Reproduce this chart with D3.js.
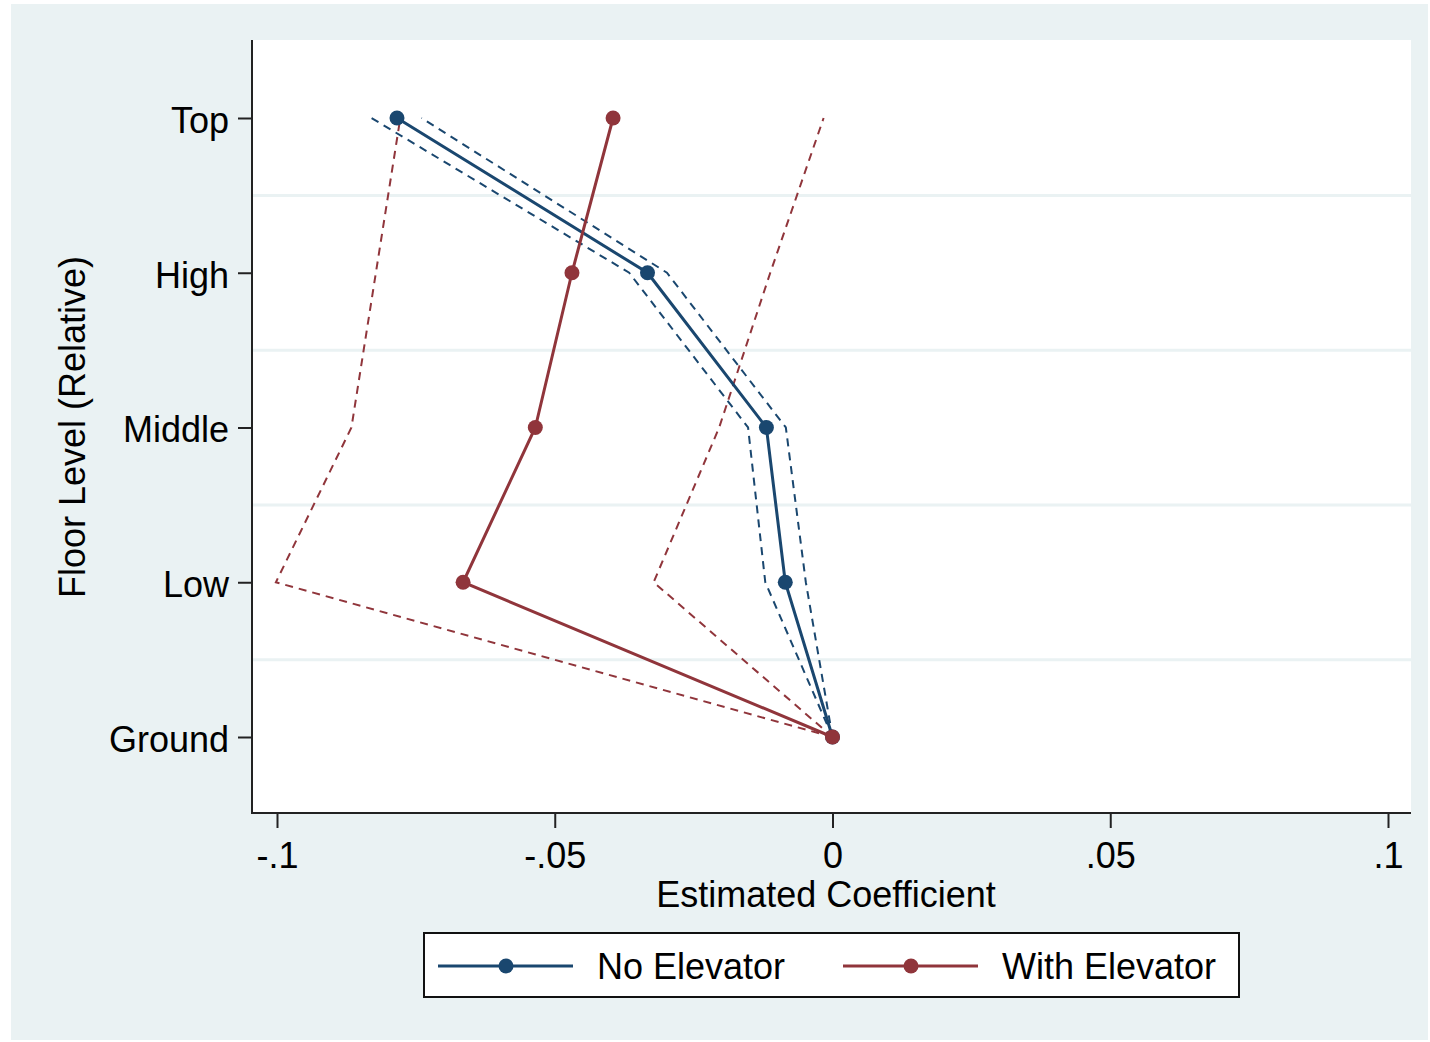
<!DOCTYPE html>
<html>
<head>
<meta charset="utf-8">
<script src="https://cdn.jsdelivr.net/npm/d3@7"></script>
<style>
  body { margin: 0; background: #fff; }
  svg { display: block; font-family: "Liberation Sans", Arial, sans-serif; }
</style>
</head>
<body>
<div id="chart"></div>
<script>
// floor levels, bottom to top
const levels = ["Ground", "Low", "Middle", "High", "Top"];

const noElevCoef = [0, -0.0085, -0.0119, -0.0333, -0.0784];
const noElevLo   = [0, -0.0121, -0.0152, -0.0366, -0.0830];
const noElevHi   = [0, -0.0048, -0.0084, -0.0298, -0.0740];

const withElevCoef = [0, -0.0665, -0.0535, -0.0469, -0.0395];
const withElevLo   = [0, -0.1002, -0.0866, -0.0822, -0.0778];
const withElevHi   = [0, -0.0322, -0.0204, -0.0112, -0.0016];

const xTicks = [-0.1, -0.05, 0, 0.05, 0.1];
const xTickLabels = ["-.1", "-.05", "0", ".05", ".1"];
const seriesNames = ["No Elevator", "With Elevator"];

const navy = "#1a476f";
const maroon = "#90353b";
const bg = "#eaf2f3";

const width = 1430;
const height = 1042;
const plot = { left: 252, right: 1411, top: 40, bottom: 813 };
const fontSize = "36px";

const svg = d3.select("#chart")
  .append("svg")
  .attr("width", width)
  .attr("height", height);

svg.append("rect")
  .attr("x", 11).attr("y", 4)
  .attr("width", 1417).attr("height", 1036)
  .attr("fill", bg);

svg.append("rect")
  .attr("x", plot.left).attr("y", plot.top)
  .attr("width", plot.right - plot.left)
  .attr("height", plot.bottom - plot.top)
  .attr("fill", "#fff");

const x = d3.scaleLinear()
  .domain([-0.1, 0.1])
  .range([277, 1388]);

const y = d3.scalePoint()
  .domain(levels)
  .range([737, 118]);

// gridlines between levels
const mids = d3.pairs(levels).map(([a, b]) => (y(a) + y(b)) / 2);
svg.append("g")
  .selectAll("line")
  .data(mids)
  .join("line")
    .attr("x1", plot.left + 1)
    .attr("x2", plot.right)
    .attr("y1", d => d)
    .attr("y2", d => d)
    .attr("stroke", bg)
    .attr("stroke-width", 3);

// axes
function yAxis(g) {
  g.attr("transform", `translate(${plot.left},0)`)
    .call(d3.axisLeft(y).tickSize(14).tickPadding(9))
    .call(g => g.select(".domain").remove())
    .attr("font-size", fontSize)
    .attr("font-family", null);
  g.selectAll(".tick line").attr("stroke-width", 2).attr("stroke", "#222");
  g.selectAll(".tick text").attr("fill", "#000").attr("dy", "0.4em");
}

function xAxis(g) {
  g.attr("transform", `translate(0,${plot.bottom})`)
    .call(d3.axisBottom(x).tickValues(xTicks)
      .tickFormat((d, i) => xTickLabels[i]).tickSize(15).tickPadding(14))
    .call(g => g.select(".domain").remove())
    .attr("font-size", fontSize)
    .attr("font-family", null);
  g.selectAll(".tick line").attr("stroke-width", 2).attr("stroke", "#222");
  g.selectAll(".tick text").attr("fill", "#000");
}

svg.append("g").call(xAxis);
svg.append("g").call(yAxis);

svg.append("path")
  .attr("d", `M${plot.left},${plot.top}V${plot.bottom}H${plot.right}`)
  .attr("fill", "none")
  .attr("stroke", "#222")
  .attr("stroke-width", 2);

svg.append("text")
  .attr("x", 826).attr("y", 907)
  .attr("text-anchor", "middle")
  .attr("font-size", fontSize)
  .text("Estimated Coefficient");

svg.append("text")
  .attr("transform", "translate(85,427) rotate(-90)")
  .attr("text-anchor", "middle")
  .attr("font-size", fontSize)
  .text("Floor Level (Relative)");

// series
const line = d3.line()
  .x(d => x(d[1]))
  .y(d => y(d[0]));

const zipped = vals => levels.map((l, i) => [l, vals[i]]);

const series = [
  { color: navy, coef: noElevCoef, lo: noElevLo, hi: noElevHi },
  { color: maroon, coef: withElevCoef, lo: withElevLo, hi: withElevHi }
];

series.forEach(s => {
  [s.lo, s.hi].forEach(v => {
    svg.append("path")
      .attr("d", line(zipped(v)))
      .attr("fill", "none")
      .attr("stroke", s.color)
      .attr("stroke-width", 2)
      .attr("stroke-dasharray", "8,6");
  });
});

series.forEach(s => {
  svg.append("path")
    .attr("d", line(zipped(s.coef)))
    .attr("fill", "none")
    .attr("stroke", s.color)
    .attr("stroke-width", 3);
  svg.append("g")
    .selectAll("circle")
    .data(zipped(s.coef))
    .join("circle")
      .attr("cx", d => x(d[1]))
      .attr("cy", d => y(d[0]))
      .attr("r", 7.5)
      .attr("fill", s.color);
});

// legend
const legend = svg.append("g");
legend.append("rect")
  .attr("x", 424).attr("y", 933)
  .attr("width", 815).attr("height", 64)
  .attr("fill", "#fff")
  .attr("stroke", "#111")
  .attr("stroke-width", 2);

const legX = [438, 843];
seriesNames.forEach((name, i) => {
  const g = legend.append("g").attr("transform", `translate(${legX[i]},966)`);
  g.append("line")
    .attr("x1", 0).attr("x2", 135)
    .attr("stroke", series[i].color)
    .attr("stroke-width", 3);
  g.append("circle")
    .attr("cx", 68).attr("r", 7.5)
    .attr("fill", series[i].color);
  g.append("text")
    .attr("x", 159).attr("y", 13)
    .attr("font-size", fontSize)
    .text(name);
});
</script>
</body>
</html>
